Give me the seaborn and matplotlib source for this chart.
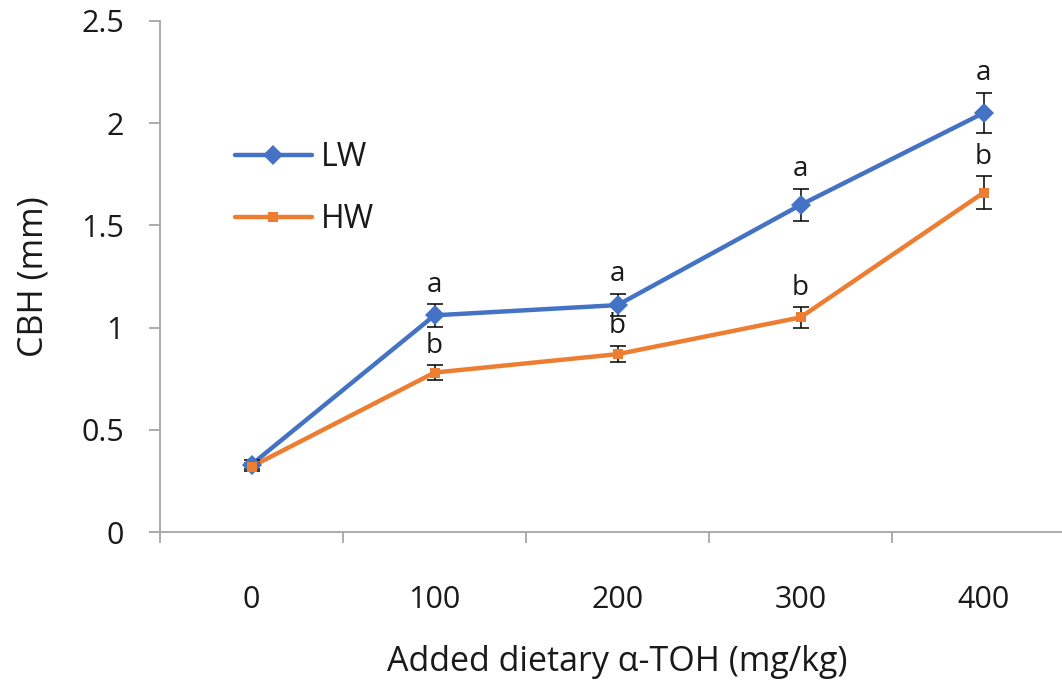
import matplotlib
matplotlib.use("Agg")
import matplotlib.pyplot as plt
import seaborn as sns
import pandas as pd
import numpy as np
from matplotlib.lines import Line2D

# ---- data ----
categories = ["0", "100", "200", "300", "400"]
lw_values = [0.33, 1.06, 1.11, 1.60, 2.05]
hw_values = [0.32, 0.78, 0.87, 1.05, 1.66]
lw_err = [0.02, 0.055, 0.055, 0.08, 0.10]
hw_err = [0.02, 0.035, 0.04, 0.05, 0.08]
lw_letters = ["", "a", "a", "a", "a"]
hw_letters = ["", "b", "b", "b", "b"]
series_names = ["LW", "HW"]

blue = "#4472C4"
orange = "#ED7D31"

sns.set_theme(style="white")
plt.rcParams['font.family'] = ['Open Sans', 'DejaVu Sans']

pos = list(range(len(categories)))
df = pd.DataFrame({
    "pos": pos * 2,
    "value": lw_values + hw_values,
    "series": [series_names[0]] * len(pos) + [series_names[1]] * len(pos),
})

fig = plt.figure(figsize=(10.62, 6.85), dpi=100)
W, H = 1062, 685
left, right, top, bottom = 160, 1075, 21, 532
ax = fig.add_axes([left / W, 1 - bottom / H, (right - left) / W, (bottom - top) / H])

sns.lineplot(data=df, x="pos", y="value", hue="series", style="series",
             palette={"LW": blue, "HW": orange},
             markers={"LW": "D", "HW": "s"}, dashes=False,
             markersize=0, linewidth=3.2, ax=ax, legend=False, zorder=2)

# error bars
ax.errorbar(pos, lw_values, yerr=lw_err, fmt="none", ecolor="black",
            elinewidth=1.1, capsize=6, capthick=1.1, zorder=3)
ax.errorbar(pos, hw_values, yerr=hw_err, fmt="none", ecolor="black",
            elinewidth=1.1, capsize=6, capthick=1.1, zorder=3)

# markers on top
ax.plot(pos, lw_values, linestyle="none", marker="D", markersize=10,
        color=blue, markeredgewidth=0, zorder=4)
ax.plot(pos, hw_values, linestyle="none", marker="s", markersize=6.5,
        color=orange, markeredgewidth=0, zorder=4)

# significance letters
for i in pos:
    if lw_letters[i]:
        ax.annotate(lw_letters[i], (i, lw_values[i] + lw_err[i]),
                    xytext=(0, 9), textcoords="offset points",
                    ha="center", va="baseline", fontsize=20, color="#1a1a1a")
    if hw_letters[i]:
        ax.annotate(hw_letters[i], (i, hw_values[i] + hw_err[i]),
                    xytext=(0, 9), textcoords="offset points",
                    ha="center", va="baseline", fontsize=20, color="#1a1a1a")

ax.set_xlim(-0.5, len(categories) - 0.5)
ax.set_ylim(0, 2.5)
ax.set_yticks([0, 0.5, 1, 1.5, 2, 2.5])
ax.set_yticklabels(["0", "0.5", "1", "1.5", "2", "2.5"])

# category axis: ticks at boundaries, labels at centers
ax.set_xticks(np.arange(-0.5, len(categories), 1.0))
ax.set_xticklabels([])
ax.set_xticks(pos, minor=True)
ax.set_xticklabels(categories, minor=True)

spine_color = "#a6a6a6"
for s in ["top", "right"]:
    ax.spines[s].set_visible(False)
for s in ["left", "bottom"]:
    ax.spines[s].set_color(spine_color)
    ax.spines[s].set_linewidth(1.3)

ax.tick_params(axis="y", which="major", direction="out", length=8, width=1.3,
               color=spine_color, pad=18, labelsize=22, labelcolor="#1a1a1a", left=True)
ax.tick_params(axis="x", which="major", direction="out", length=8, width=1.3,
               color=spine_color, bottom=True)
ax.tick_params(axis="x", which="minor", length=0, pad=38, labelsize=22,
               labelcolor="#1a1a1a", bottom=True)

ax.set_xlabel("Added dietary α-TOH (mg/kg)", fontsize=24.5, color="#1a1a1a", labelpad=22)
ax.set_ylabel("CBH (mm)", fontsize=24.5, color="#1a1a1a", labelpad=22)

handles = [
    Line2D([0], [0], color=blue, lw=3.2, marker="D", markersize=10, markeredgewidth=0),
    Line2D([0], [0], color=orange, lw=3.2, marker="s", markersize=6.5, markeredgewidth=0),
]
ax.legend(handles, series_names, loc="center left", bbox_to_anchor=(0.082, 0.672),
          frameon=False, fontsize=23, handlelength=2.4, handletextpad=0.3,
          labelspacing=0.9, borderpad=0, borderaxespad=0, labelcolor="#1a1a1a")

fig.savefig("out.png", dpi=100)
